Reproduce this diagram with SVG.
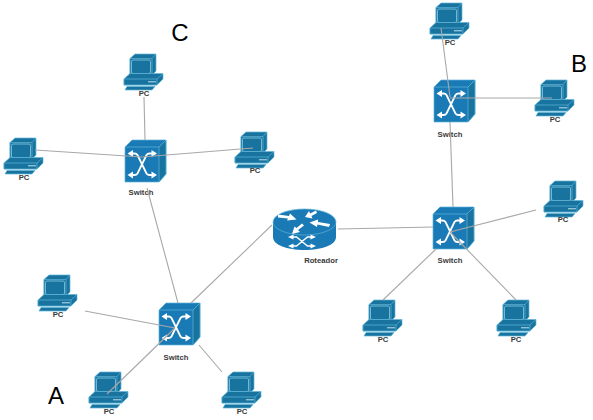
<svg xmlns="http://www.w3.org/2000/svg" width="593" height="420" viewBox="0 0 593 420">
<style>
text{font-family:"Liberation Sans",Arial,sans-serif}
.lb{font-size:7.700px;font-weight:bold;fill:#3a3a3a;text-anchor:middle}
.big{font-size:24px;fill:#000;text-anchor:middle}
.c{fill:none;stroke:#a8a8a8;stroke-width:1.1}
.f{fill:#1a7ab5;stroke:#5fb4d8;stroke-width:.7;stroke-linejoin:round}
.d{fill:#18739f;stroke:#5fb4d8;stroke-width:.7;stroke-linejoin:round}
.a{fill:none;stroke:#fff;stroke-width:1.800}
.h{fill:#fff}
</style>
<defs>
<g id="pc">
<path class="d" d="M6 4.500 11 0H32V17L28 21H6Z"/>
<path class="d" d="M6 4.500H28V21H6Z"/>
<path class="d" d="M28 4.500 32 0"/>
<rect x="7.500" y="6" width="19" height="13.500" rx="1.500" fill="#18739f" stroke="#8ccbe4" stroke-width=".8"/>
<path class="d" d="M0 25 6 19.500H39V25L33 31H0Z"/>
<path class="d" d="M0 25H33V31H0Z"/>
<path class="d" d="M33 25 39 19.500"/>
<path d="M24 27.800H32" stroke="#bfe0f0" stroke-width="1"/>
<path class="d" d="M3 32.500H31L28 36H1Z"/>
</g>
<g id="sw">
<path class="f" d="M0 7 7 0H41V34L34 42H0Z"/>
<path class="f" d="M0 7H34L41 0"/>
<path class="d" d="M34 7 41 0V34L34 42Z"/>
<path class="a" d="M5 13.500H9.500Q11.500 13.500 12.500 15L21.500 33.500Q22.500 35 24.500 35H29M5 35H9.500Q11.500 35 12.500 33.500L21.500 15Q22.500 13.500 24.500 13.500H29"/>
<path class="h" d="M2.500 13.500 8 10V17ZM32 13.500 26.500 10V17ZM2.500 35 8 31.500V38.500ZM32 35 26.500 31.500V38.500Z"/>
</g>
</defs>
<g id="n-pc-c-top"><use href="#pc" x="124" y="54"/><text class="lb" x="144" y="96">PC</text></g>
<g id="n-pc-c-right"><use href="#pc" x="235" y="132"/><text class="lb" x="255" y="173">PC</text></g>
<g id="n-pc-c-left"><use href="#pc" x="4" y="138"/><text class="lb" x="24" y="180">PC</text></g>
<g id="n-pc-a-left"><use href="#pc" x="38" y="275"/><text class="lb" x="58" y="317">PC</text></g>
<g id="n-pc-a-bl"><use href="#pc" x="89" y="372"/><text class="lb" x="109" y="414">PC</text></g>
<g id="n-pc-a-br"><use href="#pc" x="222" y="372"/><text class="lb" x="242" y="414">PC</text></g>
<g id="n-pc-b-top"><use href="#pc" x="430" y="3"/><text class="lb" x="450" y="45">PC</text></g>
<g id="n-pc-b-right"><use href="#pc" x="535" y="80"/><text class="lb" x="555" y="122">PC</text></g>
<g id="n-pc-r-right"><use href="#pc" x="544" y="181"/><text class="lb" x="563" y="222">PC</text></g>
<g id="n-pc-r-bl"><use href="#pc" x="363" y="300"/><text class="lb" x="383" y="342">PC</text></g>
<g id="n-pc-r-br"><use href="#pc" x="497" y="300"/><text class="lb" x="516" y="342">PC</text></g>
<g id="n-sw-c"><use href="#sw" x="125" y="140"/><text class="lb" x="141" y="195">Switch</text></g>
<g id="n-sw-b"><use href="#sw" x="434" y="80"/><text class="lb" x="450" y="137">Switch</text></g>
<g id="n-sw-r"><use href="#sw" x="433" y="207"/><text class="lb" x="450" y="263">Switch</text></g>
<g id="n-sw-a"><use href="#sw" x="159" y="303"/><text class="lb" x="176" y="360">Switch</text></g>
<g id="n-router">
<path d="M273 222V237C273 245 287 250 304.500 250S336 245 336 237V222Z" fill="#1a7ab5"/>
<ellipse cx="304.500" cy="222" rx="31.500" ry="13" fill="#1a7ab5" stroke="#5fb4d8" stroke-width=".7"/>
<path class="h" d="M278 214.500 289 216 290 213.500 296.500 219.500 287 220.500 288 218.500 278 217.500ZM305 217 309 211 310 213.500 316 210.500 317 213 311.500 216 312.500 218.500ZM309.500 222.500 318 219.500 318 222 330 224 329 227 317.500 224.500 317 227ZM292 234 294.500 226.500 296.500 228 302 223.500 304 225.500 298 230 300 232Z"/>
<path class="a" d="M292 237H296.500L307.500 246H312M292 246H296.500L307.500 237H312" style="stroke-width:1.400"/>
<path class="h" d="M288 237 293.500 234.500V239.500ZM316 237 310.500 234.500V239.500ZM288 246 293.500 243.500V248.500ZM316 246 310.500 243.500V248.500Z"/>
<text class="lb" x="321" y="263">Roteador</text>
</g>
<g id="connectors">
<path class="c" d="M144 97 145 140"/>
<path class="c" d="M35 150 142 157 253 148"/>
<path class="c" d="M147 188 178 303"/>
<path class="c" d="M85 311 175 328"/>
<path class="c" d="M191 303 272 225"/>
<path class="c" d="M175 328 107 394"/>
<path class="c" d="M199 345 222 372"/>
<path class="c" d="M338 229 433 227"/>
<path class="c" d="M441 28 450 97"/>
<path class="c" d="M450 98H552"/>
<path class="c" d="M450 122 453 207"/>
<path class="c" d="M450 232 536 210"/>
<path class="c" d="M450 232 516 300"/>
<path class="c" d="M436 249 383 300"/>
</g>
<g id="labels">
<text class="big" x="180" y="41">C</text>
<text class="big" x="579" y="72">B</text>
<text class="big" x="56" y="404">A</text>
</g>
</svg>
